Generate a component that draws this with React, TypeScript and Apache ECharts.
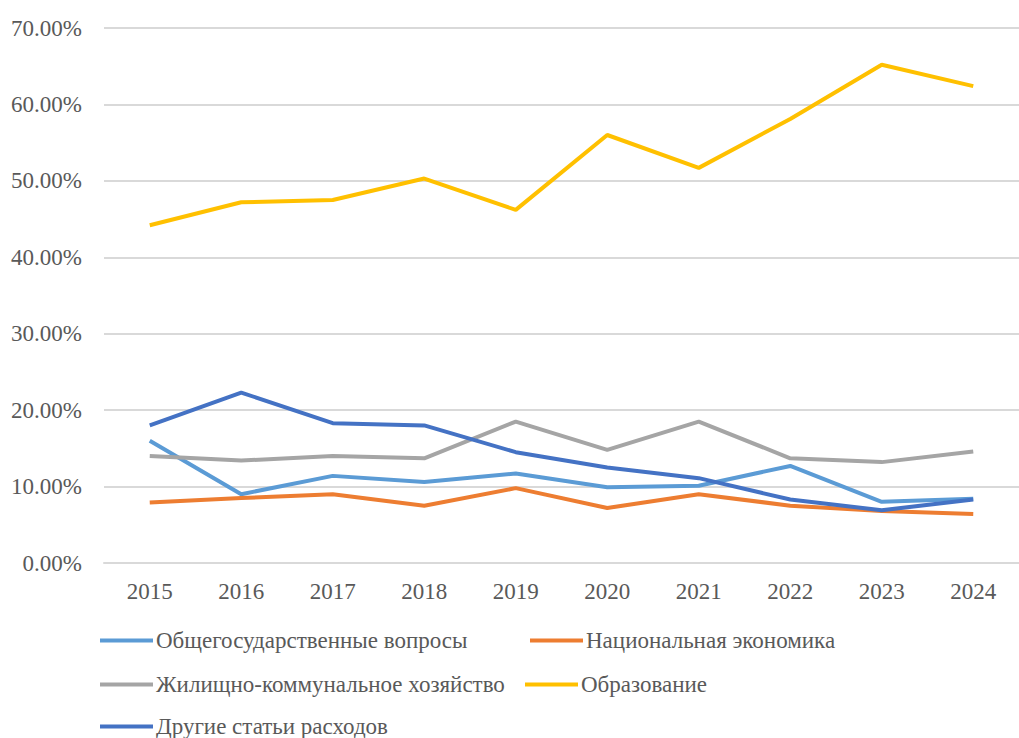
import React, { useEffect, useRef } from "react";
import * as echarts from "echarts";

const years = ["2015", "2016", "2017", "2018", "2019", "2020", "2021", "2022", "2023", "2024"];
const seriesNames = [
  "Общегосударственные вопросы",
  "Национальная экономика",
  "Жилищно-коммунальное хозяйство",
  "Образование",
  "Другие статьи расходов",
];
const general = [16.0, 9.0, 11.4, 10.6, 11.7, 9.9, 10.1, 12.7, 8.0, 8.4];
const economy = [7.9, 8.5, 9.0, 7.5, 9.8, 7.2, 9.0, 7.5, 6.8, 6.4];
const housing = [14.0, 13.4, 14.0, 13.7, 18.5, 14.8, 18.5, 13.7, 13.2, 14.6];
const education = [44.2, 47.2, 47.5, 50.3, 46.2, 56.0, 51.7, 58.1, 65.2, 62.4];
const other = [18.0, 22.3, 18.3, 18.0, 14.5, 12.5, 11.1, 8.3, 6.9, 8.3];
const colors = ["#5B9BD5", "#ED7D31", "#A5A5A5", "#FFC000", "#4472C4"];
const legendPos = [
  { left: 100, top: 629 },
  { left: 530, top: 629 },
  { left: 100, top: 673 },
  { left: 525, top: 673 },
  { left: 100, top: 715 },
];

const FONT = "'Liberation Serif', 'Times New Roman', serif";

export default function App() {
  const ref = useRef<HTMLDivElement>(null);
  useEffect(() => {
    document.body.style.margin = "0";
    const chart = echarts.init(ref.current!, null, { renderer: "svg" });
    const data = [general, economy, housing, education, other];
    chart.setOption({
      animation: false,
      backgroundColor: "#ffffff",
      grid: { left: 104, top: 28, width: 924, height: 535, containLabel: false },
      xAxis: {
        type: "category",
        data: years,
        boundaryGap: true,
        axisLine: { show: true, lineStyle: { color: "#d9d9d9", width: 2 } },
        axisTick: { show: false },
        axisLabel: { color: "#595959", fontFamily: FONT, fontSize: 23, margin: 17 },
      },
      yAxis: {
        type: "value",
        min: 0,
        max: 70,
        interval: 10,
        axisLine: { show: false },
        axisTick: { show: false },
        splitLine: { lineStyle: { color: "#d9d9d9", width: 2 } },
        axisLabel: {
          color: "#595959",
          fontFamily: FONT,
          fontSize: 23,
          margin: 22,
          formatter: (v: number) => v.toFixed(2) + "%",
        },
      },
      legend: seriesNames.map((n, i) => ({
        data: [n],
        left: legendPos[i].left,
        top: legendPos[i].top,
        icon: "rect",
        itemWidth: 53,
        itemHeight: 4,
        itemGap: 0,
        padding: 0,
        textStyle: { color: "#595959", fontFamily: FONT, fontSize: 23, padding: [0, 0, 0, -2] },
      })),
      series: seriesNames.map((n, i) => ({
        name: n,
        type: "line",
        data: data[i],
        symbol: "none",
        color: colors[i],
        lineStyle: { width: 4, color: colors[i] },
      })),
    });
    return () => chart.dispose();
  }, []);
  return <div ref={ref} style={{ width: 1019, height: 738 }} />;
}
